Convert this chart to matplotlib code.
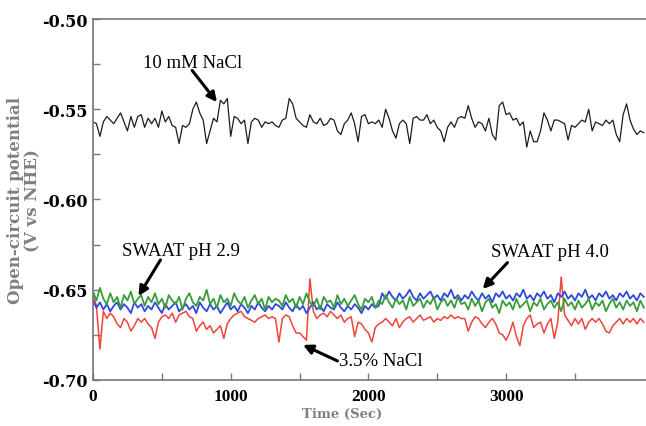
import matplotlib
matplotlib.use("Agg")
import matplotlib.pyplot as plt
from matplotlib.ticker import FixedLocator, MultipleLocator, FormatStrFormatter
import numpy as np

plt.rcParams['axes.unicode_minus'] = False

# sampling step of the traces (s)
step = 25

# open-circuit potential, mV vs NHE, one value every 25 s starting at t = 0
nacl_10mM = [
    -557, -558, -565, -557, -554, -556, -558, -555, -552, -557, -562, -554,
    -560, -554, -553, -560, -555, -558, -555, -560, -551, -557, -554, -559,
    -560, -569, -559, -560, -558, -550, -546, -552, -556, -569, -562, -555,
    -557, -545, -547, -544, -565, -554, -555, -558, -556, -569, -557, -555,
    -556, -560, -557, -558, -557, -559,
    -560, -556, -555, -544, -547, -555, -557, -559, -560, -553, -557, -558,
    -555, -559, -558, -555, -556, -562, -564, -558, -556, -552, -558, -568,
    -554, -553, -558, -557, -558, -556, -560, -550, -555, -562, -566, -558,
    -556, -558, -569, -555, -554, -556, -556, -553, -558, -556, -560, -562,
    -568, -560, -557, -560, -555, -554,
    -555, -548, -555, -560, -557, -558, -562, -555, -564, -567, -548, -546,
    -553, -552, -556, -555, -559, -557, -571, -562, -568, -568, -562, -552,
    -556, -562, -556, -556, -557, -558, -567, -559, -560, -558, -556, -557,
    -550, -562, -557, -558, -559, -556, -558, -556, -564, -568, -553, -547,
    -556, -561, -564, -562, -563,
]

nacl_35pct = [
    -653, -659, -683, -662, -666, -663, -665, -669, -671, -666, -668, -673,
    -670, -666, -668, -666, -669, -671, -677, -668, -665, -664, -666, -663,
    -668, -664, -663, -662, -665, -666, -673, -670, -668, -672, -670, -674,
    -672, -670, -677, -669, -666, -664, -663, -662, -665, -666, -667, -668,
    -666, -665, -664, -666, -665, -666,
    -679, -666, -664, -665, -670, -674, -674, -676, -678, -644, -662, -666,
    -664, -663, -665, -662, -664, -666, -664, -668, -666, -665, -676, -668,
    -669, -672, -674, -679, -671, -669, -668, -666, -668, -670, -666, -671,
    -668, -666, -665, -668, -666, -664, -667, -666, -665, -668, -666, -667,
    -665, -666, -664, -666, -665, -666,
    -666, -673, -668, -665, -666, -669, -671, -668, -666, -669, -674, -675,
    -678, -674, -668, -676, -681, -670, -666, -664, -671, -669, -668, -674,
    -669, -666, -677, -668, -643, -664, -667, -670, -666, -669, -666, -672,
    -668, -666, -668, -666, -669, -673, -674, -670, -668, -666, -669, -666,
    -668, -666, -669, -666, -668,
]

swaat_ph40 = [
    -656, -660, -657, -661, -658, -662, -659, -657, -661, -658, -660, -663,
    -657, -660, -658, -662, -659, -661, -657, -660, -663, -658, -661, -659,
    -657, -662, -660, -658, -661, -659, -663, -657, -660, -662, -658, -661,
    -659, -663, -660, -657, -661, -659, -662, -658, -660, -663, -659, -661,
    -657, -660, -662, -659, -661, -658,
    -659, -661, -657, -660, -662, -658, -661, -659, -663, -660, -657, -661,
    -659, -662, -658, -660, -661, -657, -660, -662, -659, -661, -658, -660,
    -663, -659, -661, -658, -660, -659,
    -652, -655, -651, -654, -656, -652, -655, -653, -650, -654, -656, -652,
    -655, -653, -651, -655, -653, -656, -652, -654, -650, -655, -653, -656,
    -653, -655, -651, -654, -656, -652, -655, -653, -657, -652, -654, -651,
    -655, -653, -656, -652, -654, -650, -655, -653, -656, -652, -654, -651,
    -655, -653, -657, -652, -654, -651, -655, -653, -656, -652, -654, -650,
    -655, -653, -656, -652, -654, -651, -655, -653, -656, -652, -654, -651,
    -655, -653, -656, -652, -654,
]

swaat_ph29 = [
    -651, -656, -649, -655, -658, -652, -657, -654, -660, -653, -656, -651,
    -658, -655, -653, -659, -654, -657, -652, -658, -655, -660, -653, -656,
    -658, -654, -661, -655, -652, -657, -659, -654, -656, -650, -658, -655,
    -660, -653, -657, -655, -659, -652, -656, -658, -654, -660, -656, -653,
    -658, -655, -661, -654, -657, -655,
    -656, -659, -653, -657, -655, -660, -654, -658, -652, -657, -659, -655,
    -661, -654, -657, -656, -660, -653, -658, -655, -659, -656, -653, -658,
    -661, -655, -657, -654, -660, -656, -658, -653, -657, -660, -655, -658,
    -656, -661, -654, -659, -657, -655, -660, -656, -658, -654, -661, -657,
    -655, -659, -656, -660, -654, -658,
    -657, -661, -655, -659, -656, -662, -657, -655, -660, -658, -663, -656,
    -659, -657, -661, -655, -660, -658, -656, -662, -657, -659, -655, -661,
    -658, -656, -660, -657, -662, -655, -659, -657, -661, -656, -660, -658,
    -655, -661, -657, -659, -656, -662, -658, -655, -660, -657, -661, -656,
    -659, -657, -662, -656, -660,
]

series = [
    (nacl_35pct, '#f0443a', 1.1),
    (swaat_ph40, '#2f4ad8', 1.3),
    (swaat_ph29, '#379c3a', 1.3),
    (nacl_10mM, '#1c1c1c', 0.9),
]

fig = plt.figure(figsize=(6.46, 4.27), dpi=100)
ax = fig.add_axes([0.144, 0.108, 0.856, 0.845])

for vals, col, lw in series:
    t = step * np.arange(len(vals))
    ax.plot(t, np.array(vals) / 1000.0, color=col, lw=lw)

ax.set_xlim(0, 4016)
ax.set_ylim(-0.70, -0.50)
ax.xaxis.set_major_locator(FixedLocator([0, 1000, 2000, 3000]))
ax.xaxis.set_minor_locator(FixedLocator([500, 1500, 2500, 3500]))
ax.yaxis.set_major_locator(MultipleLocator(0.05))
ax.yaxis.set_minor_locator(MultipleLocator(0.025))
ax.yaxis.set_major_formatter(FormatStrFormatter('%.2f'))

ax.tick_params(which='both', direction='in', color='#777777', width=1,
               length=5, top=False, right=False)
ax.tick_params(axis='x', which='major', pad=6)
ax.tick_params(axis='y', which='major', pad=4)
for lab in ax.get_yticklabels():
    lab.set_fontfamily('DejaVu Serif')
    lab.set_fontweight('bold')
    lab.set_fontsize(11.5)
for lab in ax.get_xticklabels():
    lab.set_fontfamily('Liberation Serif')
    lab.set_fontweight('bold')
    lab.set_fontsize(12.5)
ax.spines['right'].set_visible(False)
for s in ['left', 'bottom', 'top']:
    ax.spines[s].set_color('#777777')
    ax.spines[s].set_linewidth(1.2)

ax.set_xlabel('Time (Sec)', family='DejaVu Serif', weight='bold',
              color='#808080', fontsize=9.5)
ax.xaxis.set_label_coords(0.45, -0.075)
ax.set_ylabel('Open-circuit potential\n(V vs NHE)', family='DejaVu Serif',
              weight='bold', color='#808080', fontsize=12, linespacing=1.05)
ax.yaxis.set_label_coords(-0.093, 0.5)

# annotations
txt = dict(family='Liberation Serif', fontsize=13.5, ha='center', va='center')
arr = dict(arrowstyle='-|>', color='black', lw=2.2, mutation_scale=14,
           shrinkA=0, shrinkB=0)
ax.text(720, -0.5238, '10 mM NaCl', **txt)
ax.annotate('', xy=(900, -0.546), xytext=(720, -0.5285), arrowprops=arr)
ax.text(640, -0.6285, 'SWAAT pH 2.9', **txt)
ax.annotate('', xy=(330, -0.6535), xytext=(490, -0.6335), arrowprops=arr)
ax.text(3320, -0.6290, 'SWAAT pH 4.0', **txt)
ax.annotate('', xy=(2830, -0.6496), xytext=(3010, -0.6350), arrowprops=arr)
ax.text(1790, -0.6895, '3.5% NaCl', family='Liberation Serif', fontsize=13.5,
        ha='left', va='center')
ax.annotate('', xy=(1525, -0.6806), xytext=(1775, -0.6895), arrowprops=arr)

fig.savefig('out.png', dpi=100)
